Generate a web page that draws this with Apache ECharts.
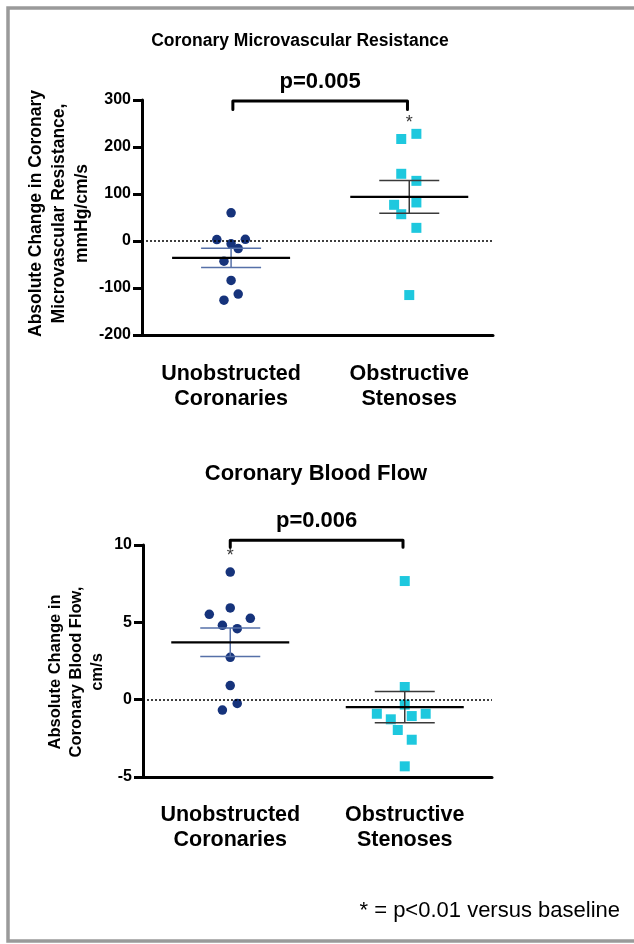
<!DOCTYPE html>
<html>
<head>
<meta charset="utf-8">
<script src="https://cdn.jsdelivr.net/npm/echarts@6/dist/echarts.min.js"></script>
<style>
  body { margin: 0; background: #fff; }
  #chart { width: 634px; height: 944px; }
</style>
</head>
<body>
<div id="chart"></div>
<script>
// groups on the x axis (1 and 2)
const categories = ['Unobstructed\nCoronaries', 'Obstructive\nStenoses'];

// Coronary microvascular resistance, mmHg/cm/s
const cmrUnobstructed = [60, 3, 3.5, -6, -16, -43, -84, -113, -126];
const cmrUnobstructedJitter = [0, -0.08, 0.08, 0, 0.04, -0.04, 0, 0.04, -0.04];
const cmrObstructive = [228, 217, 143, 128, 77, 82, 57, 28, -115];
const cmrObstructiveJitter = [0.04, -0.045, -0.045, 0.04, -0.085, 0.04, -0.045, 0.04, 0];
const cmrTicks = { min: -200, max: 300, interval: 100 };

// Coronary blood flow, cm/s
const cbfUnobstructed = [8.25, 5.93, 5.52, 5.26, 4.81, 4.59, 2.74, 0.91, -0.24, -0.67];
const cbfUnobstructedJitter = [0, 0, -0.12, 0.115, -0.045, 0.04, 0, 0, 0.04, -0.045];
const cbfObstructive = [7.67, 0.82, -0.32, -0.91, -1.27, -1.06, -0.91, -1.96, -2.59, -4.31];
const cbfObstructiveJitter = [0, 0, 0, -0.16, -0.08, 0.04, 0.12, -0.04, 0.04, 0];
const cbfTicks = { min: -5, max: 10, interval: 5 };

// p-value brackets: [x from, x to, y top, y of the ends]
const cmrBracket = [1.01, 1.99, 298, 280];
const cbfBracket = [1.0, 1.99, 10.3, 9.85];
const cmrP = 'p=0.005';
const cbfP = 'p=0.006';
// asterisk markers (p<0.01 vs baseline): [x, y]
const cmrStar = [2, 250];
const cbfStar = [1, 9.3];

const FONT = "'Liberation Sans', Arial, sans-serif";
const NAVY = '#16337b';
const CYAN = '#1ec8de';

function mean(a) { return a.reduce((s, v) => s + v, 0) / a.length; }
function sem(a) {
    const m = mean(a);
    const v = a.reduce((s, x) => s + (x - m) * (x - m), 0) / (a.length - 1);
    return Math.sqrt(v / a.length);
}
function pts(vals, jitter, center) {
    return vals.map((v, i) => [center + jitter[i], v]);
}

// mean line + SEM whiskers
function renderMeanSem(params, api) {
    const x = api.value(0), m = api.value(1), s = api.value(2);
    const pm = api.coord([x, m]);
    const pu = api.coord([x, m + s]);
    const pl = api.coord([x, m - s]);
    const errColor = params.dataIndex === 0 ? '#5670a8' : '#3a3a3a';
    const thin = { stroke: errColor, lineWidth: 1.5 };
    return {
        type: 'group',
        children: [
            { type: 'line', shape: { x1: pu[0], y1: pu[1], x2: pl[0], y2: pl[1] }, style: thin },
            { type: 'line', shape: { x1: pu[0] - 30, y1: pu[1], x2: pu[0] + 30, y2: pu[1] }, style: thin },
            { type: 'line', shape: { x1: pl[0] - 30, y1: pl[1], x2: pl[0] + 30, y2: pl[1] }, style: thin },
            { type: 'line', shape: { x1: pm[0] - 59, y1: pm[1], x2: pm[0] + 59, y2: pm[1] },
              style: { stroke: '#000', lineWidth: 2.2 } }
        ]
    };
}

function renderBracket(params, api) {
    const a = api.coord([api.value(0), api.value(2)]);
    const b = api.coord([api.value(1), api.value(2)]);
    const aEnd = api.coord([api.value(0), api.value(3)]);
    const bEnd = api.coord([api.value(1), api.value(3)]);
    return {
        type: 'group',
        children: [
            { type: 'polyline',
              shape: { points: [aEnd, a, b, bEnd] },
              style: { stroke: '#000', lineWidth: 3, fill: null, lineJoin: 'round', lineCap: 'round' } },
            { type: 'text',
              style: { text: params.seriesName === 'cmrBracket' ? cmrP : cbfP,
                       x: (a[0] + b[0]) / 2, y: a[1] - 19,
                       align: 'center', verticalAlign: 'middle',
                       font: 'bold 22px ' + FONT, fill: '#000' } }
        ]
    };
}

function zeroLine() {
    return {
        silent: true,
        symbol: 'none',
        label: { show: false },
        lineStyle: { color: '#000', width: 1.5, type: [2, 2] },
        data: [{ yAxis: 0 }]
    };
}

function xAxisFor(gridIndex, max, margin) {
    return {
        type: 'value', gridIndex: gridIndex, min: 0.5, max: max,
        axisLine: { show: true, onZero: false, lineStyle: { color: '#000', width: 3 } },
        splitLine: { show: false },
        axisTick: { show: false },
        axisLabel: {
            customValues: [1, 2],
            formatter: v => categories[Math.round(v) - 1] || '',
            fontFamily: FONT, fontSize: 21.5, fontWeight: 'bold', color: '#000',
            lineHeight: 25, margin: margin
        }
    };
}

function yAxisFor(gridIndex, ticks, name, gap, size, lh, pad) {
    return {
        type: 'value', gridIndex: gridIndex,
        min: ticks.min, max: ticks.max, interval: ticks.interval,
        axisLine: { show: true, onZero: false, lineStyle: { color: '#000', width: 3 } },
        splitLine: { show: false },
        axisTick: { show: true, length: 9, lineStyle: { color: '#000', width: 3 } },
        axisLabel: { fontFamily: FONT, fontSize: 16, fontWeight: 'bold', color: '#000', margin: 11 },
        name: name, nameLocation: 'middle', nameRotate: 90, nameGap: gap,
        nameMoveOverlap: false,
        nameTextStyle: { fontFamily: FONT, fontSize: size, fontWeight: 'bold', color: '#000',
                         lineHeight: lh, align: 'center', padding: pad }
    };
}

const chart = echarts.init(document.getElementById('chart'), null, { renderer: 'canvas' });

chart.setOption({
    animation: false,
    backgroundColor: '#fff',
    title: [
        { text: 'Coronary Microvascular Resistance', left: 295, top: 27, textAlign: 'center',
          textStyle: { fontFamily: FONT, fontSize: 17.5, fontWeight: 'bold', color: '#000' } },
        { text: 'Coronary Blood Flow', left: 311, top: 458, textAlign: 'center',
          textStyle: { fontFamily: FONT, fontSize: 22, fontWeight: 'bold', color: '#000' } }
    ],
    grid: [
        { left: 142, top: 100, width: 351, height: 235 },
        { left: 143, top: 545, width: 349, height: 232 }
    ],
    xAxis: [xAxisFor(0, 2.47, 27), xAxisFor(1, 2.5, 26)],
    yAxis: [
        yAxisFor(0, cmrTicks, 'Absolute Change in Coronary\nMicrovascular Resistance,\nmmHg/cm/s', 48, 17.5, 23, [0, 0, 0, 8]),
        yAxisFor(1, cbfTicks, 'Absolute Change in\nCoronary Blood Flow,\ncm/s', 35, 16.5, 21, [0, 22, 0, 0])
    ],
    graphic: [
        { type: 'polyline', silent: true,
          shape: { points: [[640, 8], [8, 8], [8, 941], [640, 941]] },
          style: { stroke: '#9a9a9a', lineWidth: 3.5, fill: null } },
        { type: 'text', right: 14, top: 900,
          style: { text: '* = p<0.01 versus baseline', font: '22px ' + FONT, fill: '#000' } }
    ],
    series: [
        // top panel
        { type: 'scatter', xAxisIndex: 0, yAxisIndex: 0, symbol: 'circle', symbolSize: 9.5,
          itemStyle: { color: NAVY, opacity: 1 }, data: pts(cmrUnobstructed, cmrUnobstructedJitter, 1),
          markLine: zeroLine(), z: 3 },
        { type: 'scatter', xAxisIndex: 0, yAxisIndex: 0, symbol: 'rect', symbolSize: 10,
          itemStyle: { color: CYAN, opacity: 1 }, data: pts(cmrObstructive, cmrObstructiveJitter, 2), z: 3 },
        { type: 'custom', xAxisIndex: 0, yAxisIndex: 0, renderItem: renderMeanSem, z: 4,
          data: [[1, mean(cmrUnobstructed), sem(cmrUnobstructed)],
                 [2, mean(cmrObstructive), sem(cmrObstructive)]] },
        { type: 'custom', name: 'cmrBracket', xAxisIndex: 0, yAxisIndex: 0, renderItem: renderBracket,
          data: [cmrBracket] },
        { type: 'scatter', xAxisIndex: 0, yAxisIndex: 0, symbolSize: 0, data: [cmrStar],
          label: { show: true, position: 'inside', formatter: '*',
                   fontFamily: FONT, fontSize: 18, color: '#000' } },
        // bottom panel
        { type: 'scatter', xAxisIndex: 1, yAxisIndex: 1, symbol: 'circle', symbolSize: 9.5,
          itemStyle: { color: NAVY, opacity: 1 }, data: pts(cbfUnobstructed, cbfUnobstructedJitter, 1),
          markLine: zeroLine(), z: 3 },
        { type: 'scatter', xAxisIndex: 1, yAxisIndex: 1, symbol: 'rect', symbolSize: 10,
          itemStyle: { color: CYAN, opacity: 1 }, data: pts(cbfObstructive, cbfObstructiveJitter, 2), z: 3 },
        { type: 'custom', xAxisIndex: 1, yAxisIndex: 1, renderItem: renderMeanSem, z: 4,
          data: [[1, mean(cbfUnobstructed), sem(cbfUnobstructed)],
                 [2, mean(cbfObstructive), sem(cbfObstructive)]] },
        { type: 'custom', name: 'cbfBracket', xAxisIndex: 1, yAxisIndex: 1, renderItem: renderBracket,
          data: [cbfBracket] },
        { type: 'scatter', xAxisIndex: 1, yAxisIndex: 1, symbolSize: 0, data: [cbfStar],
          label: { show: true, position: 'inside', formatter: '*',
                   fontFamily: FONT, fontSize: 18, color: '#000' } }
    ]
});
</script>
</body>
</html>
